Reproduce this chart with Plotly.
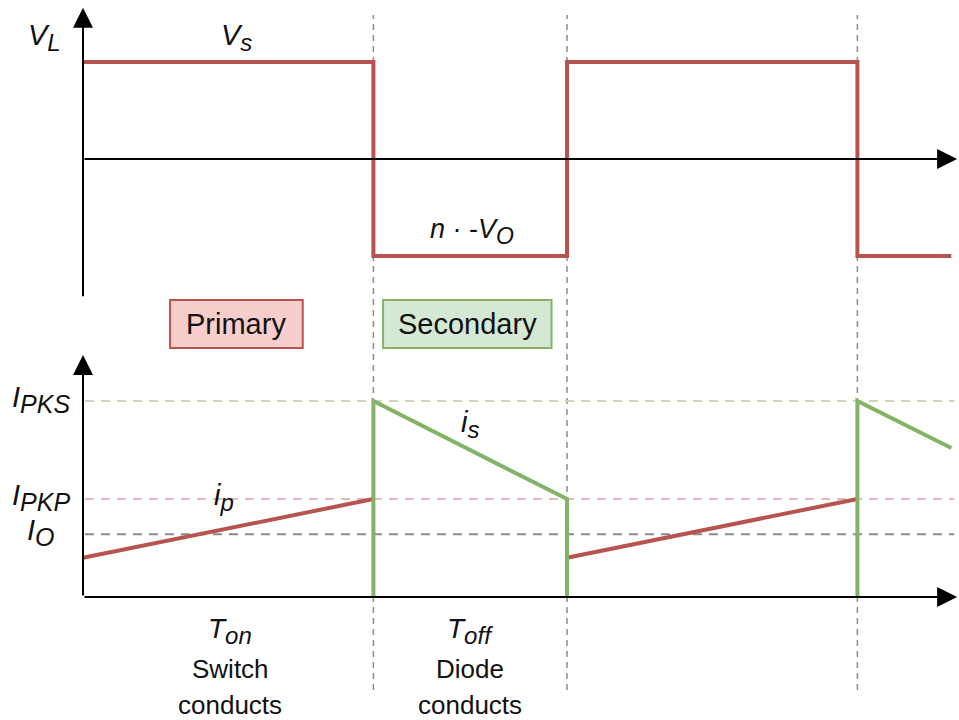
import plotly.graph_objects as go

# ---------------- data (time unit: Ton = 3, Toff = 2) ----------------
# Inductor voltage V_L
vl_t = [0, 3, 3, 5, 5, 8, 8, 8.97]
vl_v = [1, 1, -1, -1, 1, 1, -1, -1]
# Primary current i_p
ip_t = [0, 3, None, 5, 8]
ip_v = [0.40, 1.0, None, 0.40, 1.0]
# Secondary current i_s
is_t = [3, 3, 5, 5, None, 8, 8, 8.97]
is_v = [0, 2.0, 1.0, 0, None, 0, 2.0, 1.52]
# Current levels
level_names = ["PKS", "PKP", "O"]
level_values = [2.0, 1.0, 0.64]
level_colors = ["#c9d9b5", "#e3b9b9", "#8a8a8a"]
# switching instants (vertical markers)
switch_times = [3, 5, 8]

RED = "#b85450"
GREEN = "#82b366"
FONT = "Liberation Sans, Arial, sans-serif"


def sub(base, s, size=24):
    return "<i>%s<sub><span style='font-size:%dpx'>%s</span></sub></i>" % (base, size, s)


fig = go.Figure()

# V_L (top panel, axis y)
fig.add_trace(go.Scatter(x=vl_t, y=vl_v, mode="lines", yaxis="y",
                         line=dict(color=RED, width=4), hoverinfo="skip"))
# current panel (axis y2)
for lv, lc in zip(level_values, level_colors):
    fig.add_trace(go.Scatter(x=[0.02, 9.0], y=[lv, lv], mode="lines", yaxis="y2",
                             line=dict(color=lc, width=2, dash="9px,7px"), hoverinfo="skip"))
fig.add_trace(go.Scatter(x=ip_t, y=ip_v, mode="lines", yaxis="y2",
                         line=dict(color=RED, width=4), hoverinfo="skip"))
fig.add_trace(go.Scatter(x=is_t, y=is_v, mode="lines", yaxis="y2",
                         line=dict(color=GREEN, width=4), hoverinfo="skip"))

# vertical dashed markers
shapes = []
for ts in switch_times:
    shapes.append(dict(type="line", xref="x", yref="paper", x0=ts, x1=ts,
                       y0=1 - 690 / 720, y1=1 - 15 / 720,
                       line=dict(color="#8c8c8c", width=1.5, dash="6px,5px"), layer="below"))

# boxes
def add_box(x0, x1, text, fill, border):
    shapes.append(dict(type="rect", xref="x", yref="paper", x0=x0, x1=x1,
                       y0=1 - 348 / 720, y1=1 - 300 / 720,
                       fillcolor=fill, line=dict(color=border, width=2)))
    return dict(x=(x0 + x1) / 2, y=1 - 324 / 720, xref="x", yref="paper",
                text=text, showarrow=False, font=dict(size=29, color="#111", family=FONT))

annotations = []
annotations.append(add_box(0.90, 2.27, "Primary", "#f8cecc", RED))
annotations.append(add_box(3.10, 4.84, "Secondary", "#d5e8d4", GREEN))

# axis arrows
def arrow(x0, y0, x1, y1, yref):
    return dict(x=x1, y=y1, ax=x0, ay=y0, xref="x", yref=yref, axref="x", ayref=yref,
                showarrow=True, arrowhead=2, arrowsize=2.0, arrowwidth=2,
                arrowcolor="black", text="")

annotations += [
    arrow(0, -1.43, 0, 1.56, "y"),
    arrow(0, 0, 9.03, 0, "y"),
    arrow(0, 0, 0, 2.47, "y2"),
    arrow(0, 0, 9.03, 0, "y2"),
]

def label(x, y, text, yref, size=29, xanchor="center"):
    return dict(x=x, y=y, xref="x", yref=yref, text=text, showarrow=False,
                xanchor=xanchor, yanchor="middle",
                font=dict(size=size, color="#111", family=FONT))

annotations += [
    label(-0.40, 1.25, sub("V", "L"), "y"),
    label(1.59, 1.25, sub("V", "s"), "y"),
    label(4.02, -0.75, "<i>n</i> · -" + sub("V", "O", 23), "y", size=27),
    label(1.46, 1.02, sub("i", "p"), "y2"),
    label(4.0, 1.76, sub("i", "s"), "y2"),
]
for nm, lv, xa in zip(level_names, level_values, [-0.11, -0.11, -0.27]):
    annotations.append(label(xa, lv + 0.02, sub("I", nm, 25), "y2", xanchor="right"))

# phase labels under the time axis
annotations += [
    label(1.52, -0.35, sub("T", "on", 24), "y2", size=28),
    label(1.52, -0.73, "Switch", "y2", size=26),
    label(1.52, -1.10, "conducts", "y2", size=26),
    label(4.0, -0.35, sub("T", "off", 24), "y2", size=28),
    label(4.0, -0.73, "Diode", "y2", size=26),
    label(4.0, -1.10, "conducts", "y2", size=26),
]

fig.update_layout(
    width=959, height=720,
    margin=dict(l=0, r=0, t=0, b=0),
    paper_bgcolor="white", plot_bgcolor="white",
    showlegend=False,
    xaxis=dict(range=[-83 / 96.8, (959 - 83) / 96.8], visible=False, domain=[0, 1]),
    yaxis=dict(range=[-(720 - 159) / 97, 159 / 97], visible=False, domain=[0, 1]),
    yaxis2=dict(range=[-(720 - 597) / 98, 597 / 98], visible=False, domain=[0, 1],
                overlaying="y"),
    shapes=shapes,
    annotations=annotations,
)

fig.write_html("out.html", config={"displayModeBar": False},
               post_script="document.body.style.margin='0';")
